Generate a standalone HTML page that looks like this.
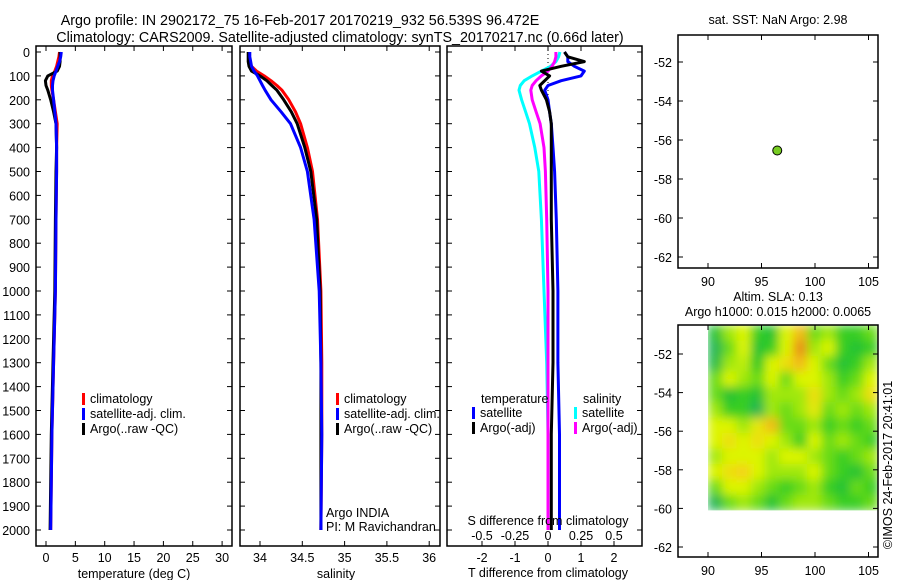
<!DOCTYPE html>
<html><head><meta charset="utf-8"><style>
body{margin:0;background:#fff;}
svg text{font-family:"Liberation Sans",sans-serif;font-size:12.5px;fill:#000;}
</style></head><body>
<svg id="fig" width="900" height="580" xmlns="http://www.w3.org/2000/svg">
<defs>
<filter id="bl" x="0" y="0" width="1" height="1"><feGaussianBlur stdDeviation="5" edgeMode="duplicate"/></filter>
<clipPath id="hc"><rect x="708" y="325" width="170" height="185"/></clipPath>
</defs>
<rect width="900" height="580" fill="#fff"/>
<text x="300" y="25" text-anchor="middle" style="font-size:14.3px">Argo profile: IN 2902172_75 16-Feb-2017 20170219_932 56.539S 96.472E</text>
<text x="340" y="42" text-anchor="middle" style="font-size:14.3px">Climatology: CARS2009. Satellite-adjusted climatology: synTS_20170217.nc (0.66d later)</text>
<g id="g"></g>
</svg>
<script>
const depths=[0,20,40,60,80,100,120,140,160,200,250,300,400,500,700,1000,1300,1600,2000];
const tClim=[2.3,2.2,2.0,1.8,1.5,1.1,0.9,0.9,1.0,1.3,1.6,1.9,1.8,1.8,1.7,1.6,1.3,1.0,0.8];
const tSat=[2.6,2.5,2.3,2.0,1.7,1.4,1.2,1.1,1.1,1.3,1.5,1.7,1.8,1.8,1.7,1.6,1.3,1.0,0.8];
const tArgo=[2.4,2.4,2.4,2.3,1.9,0.3,-0.1,0.0,0.3,0.8,1.3,1.7,1.8,1.7,1.6,1.5,1.2,0.9,0.7];
const sClim=[33.87,33.87,33.88,33.9,33.96,34.05,34.13,34.2,34.26,34.34,34.42,34.48,34.56,34.62,34.68,34.72,34.73,34.73,34.72];
const sSat=[33.88,33.88,33.89,33.9,33.93,33.97,34.0,34.03,34.06,34.13,34.25,34.36,34.48,34.56,34.64,34.70,34.72,34.73,34.72];
const sArgo=[33.86,33.86,33.86,33.87,33.9,34.0,34.08,34.14,34.2,34.28,34.37,34.44,34.53,34.6,34.67,34.71,34.72,34.72,34.72];
const dtSat=[0.5,0.6,0.6,0.8,1.1,1.0,0.4,0.0,-0.1,0.0,0.05,0.1,0.15,0.2,0.25,0.3,0.3,0.35,0.35];
const dtArgo=[0.5,0.6,1.1,0.4,-0.2,0.05,-0.1,-0.25,-0.2,-0.05,0.05,0.1,0.1,0.1,0.1,0.15,0.15,0.1,0.1];
const dsSat=[0.09,0.08,0.06,0.02,-0.05,-0.12,-0.18,-0.21,-0.22,-0.2,-0.17,-0.14,-0.1,-0.07,-0.05,-0.03,-0.01,0.0,0.0];
const dsArgo=[0.06,0.06,0.05,0.03,0.0,-0.05,-0.09,-0.12,-0.13,-0.12,-0.09,-0.06,-0.03,-0.02,-0.01,0.0,0.0,0.0,0.0];
const depthTicks=[0,100,200,300,400,500,600,700,800,900,1000,1100,1200,1300,1400,1500,1600,1700,1800,1900,2000];
const tTicks=[0,5,10,15,20,25,30];
const sTicks=["34","34.5","35","35.5","36"];
const dtTicks=["-2","-1","0","1","2"];
const dsTicks=["-0.5","-0.25","0","0.25","0.5"];
const latTicks=[-52,-54,-56,-58,-60,-62];
const lonTicks=[90,95,100,105];
const argoLon=[96.472], argoLat=[-56.539];
const sla=[
[0.2,0.5,0.6,0.3,0.2,0.6,0.8,0.4,0.5,0.3,0.3,0.4],
[0.1,0.4,0.6,0.2,0.3,0.6,0.9,0.5,0.6,0.3,0.2,0.3],
[0.15,0.5,0.55,0.25,0.6,0.7,0.8,0.6,0.4,0.2,0.3,0.5],
[0.4,0.6,0.5,0.4,0.6,0.4,0.6,0.6,0.5,0.3,0.4,0.6],
[0.4,0.2,0.3,0.2,0.5,0.5,0.5,0.7,0.5,0.4,0.5,0.7],
[0.5,0.3,0.3,0.1,0.5,0.4,0.5,0.65,0.4,0.5,0.4,0.5],
[0.6,0.6,0.5,0.65,0.8,0.4,0.4,0.5,0.3,0.4,0.3,0.4],
[0.6,0.7,0.6,0.7,0.6,0.5,0.3,0.6,0.4,0.5,0.4,0.3],
[0.5,0.6,0.6,0.6,0.5,0.6,0.6,0.5,0.4,0.3,0.4,0.5],
[0.6,0.7,0.75,0.6,0.5,0.5,0.5,0.6,0.4,0.3,0.2,0.4],
[0.4,0.6,0.6,0.5,0.4,0.3,0.4,0.5,0.3,0.2,0.4,0.3],
[0.1,0.4,0.5,0.4,0.2,0.4,0.5,0.5,0.4,0.3,0.3,0.4]];

const NS="http://www.w3.org/2000/svg";
const G=document.getElementById('g');
function el(t,a,p){const e=document.createElementNS(NS,t);for(const k in a)e.setAttribute(k,a[k]);(p||G).appendChild(e);return e;}
function txt(x,y,s,anchor,p){const e=el('text',{x:x,y:y,'text-anchor':anchor||'start'},p);e.textContent=s;return e;}
const Y=d=>52+d*0.239;
const PT=v=>46+v*5.87, PS=v=>260+(v-34)*84.6, PD=v=>548+v*33, PDS=v=>548+v*132;
const TOP=46,BOT=546;

function panel(x0,x1,name){
  const r=el('rect',{x:x0,y:TOP,width:x1-x0,height:BOT-TOP,fill:'none',stroke:'#000','stroke-width':1.5});
  
  
  depthTicks.forEach(d=>{el('line',{x1:x0,x2:x0+5,y1:Y(d),y2:Y(d),stroke:'#000'});el('line',{x1:x1,x2:x1-5,y1:Y(d),y2:Y(d),stroke:'#000'});});
}
function line(xs,f,color,name,w){
  const pts=depths.map((d,i)=>f(xs[i]).toFixed(1)+','+Y(d).toFixed(1)).join(' ');
  const p=el('polyline',{points:pts,fill:'none',stroke:color,'stroke-width':w||3,'stroke-linejoin':'round'});
  
  
}
function legend(x,y,items,name){
  const g=el('g',{});
  
  
  items.forEach((it,i)=>{el('rect',{x:x,y:y+i*15-10,width:3,height:12,fill:it[0]},g);txt(x+8,y+i*15,it[1],'start',g);});
}
panel(36,232,'temperature-panel');
depthTicks.forEach(d=>{const t=txt(30,Y(d)+5,String(d),'end');});
tTicks.forEach(v=>{el('line',{x1:PT(v),x2:PT(v),y1:TOP,y2:TOP+5,stroke:'#000'});el('line',{x1:PT(v),x2:PT(v),y1:BOT,y2:BOT-5,stroke:'#000'});txt(PT(v),562,String(v),'middle');});
txt(134,578,'temperature (deg C)','middle');
line(tClim,PT,'#f00','temp-climatology');line(tArgo,PT,'#000','temp-argo');line(tSat,PT,'#00f','temp-satellite');
legend(82,403,[['#f00','climatology'],['#00f','satellite-adj. clim.'],['#000','Argo(..raw -QC)']],'temp-legend');
panel(240,440,'salinity-panel');
sTicks.forEach(v=>{const x=PS(+v);el('line',{x1:x,x2:x,y1:TOP,y2:TOP+5,stroke:'#000'});el('line',{x1:x,x2:x,y1:BOT,y2:BOT-5,stroke:'#000'});txt(x,562,v,'middle');});
txt(336,578,'salinity','middle');
line(sClim,PS,'#f00','sal-climatology');line(sArgo,PS,'#000','sal-argo');line(sSat,PS,'#00f','sal-satellite');
legend(336,403,[['#f00','climatology'],['#00f','satellite-adj. clim.'],['#000','Argo(..raw -QC)']],'sal-legend');
txt(326,517,'Argo INDIA');txt(326,531,'PI: M Ravichandran');
panel(447,642,'difference-panel');
el('line',{x1:548,x2:548,y1:TOP,y2:110,stroke:'#000','stroke-dasharray':'1,3'});
dtTicks.forEach(v=>{const x=PD(+v);el('line',{x1:x,x2:x,y1:TOP,y2:TOP+5,stroke:'#000'});el('line',{x1:x,x2:x,y1:BOT,y2:BOT-5,stroke:'#000'});txt(x,562,v,'middle');});
line(dsSat,PDS,'#0ff','dsal-satellite');line(dsArgo,PDS,'#f0f','dsal-argo');line(dtSat,PD,'#00f','dtemp-satellite');line(dtArgo,PD,'#000','dtemp-argo');
txt(481,403,'temperature');txt(583,403,'salinity');
legend(472,417,[['#00f','satellite'],['#000','Argo(-adj)']],'dtemp-legend');
legend(574,417,[['#0ff','satellite'],['#f0f','Argo(-adj)']],'dsal-legend');
txt(548,525,'S difference from climatology','middle');
dsTicks.forEach(v=>txt(PDS(+v),540,v,'middle'));
txt(548,577,'T difference from climatology','middle');
const LX=v=>708+(v-90)*10.7;
function mapAxes(y0,y1,latY,name){
  const r=el('rect',{x:678,y:y0,width:200,height:y1-y0,fill:'none',stroke:'#000','stroke-width':1.5});
  
  
  latTicks.forEach(l=>{const y=latY(l);el('line',{x1:678,x2:683,y1:y,y2:y,stroke:'#000'});el('line',{x1:878,x2:873,y1:y,y2:y,stroke:'#000'});txt(672,y+5,String(l),'end');});
  lonTicks.forEach(l=>{const x=LX(l);el('line',{x1:x,x2:x,y1:y0,y2:y0+5,stroke:'#000'});el('line',{x1:x,x2:x,y1:y1,y2:y1-5,stroke:'#000'});txt(x,y1+18,String(l),'middle');});
}
const M1=l=>62+(-52-l)*19.5, M2=l=>354+(-52-l)*19.3;
txt(778,24,'sat. SST: NaN Argo: 2.98','middle');
mapAxes(35,268,M1,'sst-map');
const dot=el('circle',{cx:LX(argoLon[0]),cy:M1(argoLat[0]),r:4.5,fill:'#7c2',stroke:'#000'});


txt(778,301,'Altim. SLA: 0.13','middle');
txt(778,316,'Argo h1000: 0.015 h2000: 0.0065','middle');
function cmap(v){const st=[[0,[40,170,110]],[0.25,[30,200,40]],[0.45,[130,225,20]],[0.6,[220,245,0]],[0.75,[245,210,20]],[0.9,[235,140,20]],[1,[200,90,20]]];
 for(let i=1;i<st.length;i++){if(v<=st[i][0]){const a=st[i-1],b=st[i],t=(v-a[0])/(b[0]-a[0]);return 'rgb('+a[1].map((c,k)=>Math.round(c+(b[1][k]-c)*t)).join(',')+')';}}return 'rgb(200,90,20)';}
const hx0=LX(90),hx1=878,hy0=325,hy1=M2(-60.1);
document.querySelector('#hc rect').setAttribute('height',hy1-hy0);
const hg=el('g',{'clip-path':'url(#hc)'});
const hg2=el('g',{filter:'url(#bl)'},hg);
const cw=(hx1-hx0)/sla[0].length,ch=(hy1-hy0)/sla.length;
sla.forEach((row,i)=>row.forEach((v,j)=>{const c=el('rect',{x:hx0+j*cw,y:hy0+i*ch,width:cw+0.5,height:ch+0.5,fill:cmap(v)},hg2);
 
 }));
mapAxes(325,557,M2,'sla-map');
const cr=txt(0,0,'©IMOS 24-Feb-2017 20:41:01','middle');cr.setAttribute('transform','translate(892,465) rotate(-90)');
</script>
</body></html>
